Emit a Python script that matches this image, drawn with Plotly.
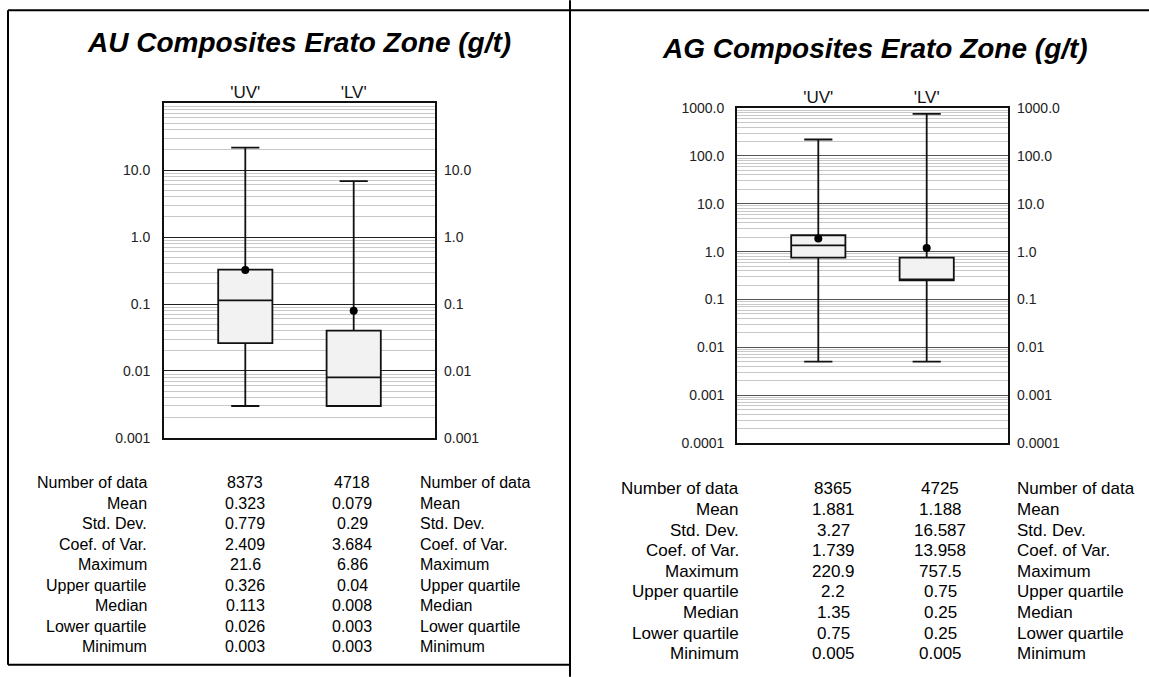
import plotly.graph_objects as go

# ---------------- data ----------------
categories = ["'UV'", "'LV'"]
stat_labels = ["Number of data", "Mean", "Std. Dev.", "Coef. of Var.", "Maximum",
               "Upper quartile", "Median", "Lower quartile", "Minimum"]

au_uv_text = ["8373", "0.323", "0.779", "2.409", "21.6", "0.326", "0.113", "0.026", "0.003"]
au_lv_text = ["4718", "0.079", "0.29", "3.684", "6.86", "0.04", "0.008", "0.003", "0.003"]
ag_uv_text = ["8365", "1.881", "3.27", "1.739", "220.9", "2.2", "1.35", "0.75", "0.005"]
ag_lv_text = ["4725", "1.188", "16.587", "13.958", "757.5", "0.75", "0.25", "0.25", "0.005"]

au_mean = [0.323, 0.079]
au_max = [21.6, 6.86]
au_q3 = [0.326, 0.04]
au_median = [0.113, 0.008]
au_q1 = [0.026, 0.003]
au_min = [0.003, 0.003]

ag_mean = [1.881, 1.188]
ag_max = [220.9, 757.5]
ag_q3 = [2.2, 0.75]
ag_median = [1.35, 0.25]
ag_q1 = [0.75, 0.25]
ag_min = [0.005, 0.005]

au_ticks = [0.001, 0.01, 0.1, 1, 10]
au_ticktext = ["0.001", "0.01", "0.1", "1.0", "10.0"]
ag_ticks = [0.0001, 0.001, 0.01, 0.1, 1, 10, 100, 1000]
ag_ticktext = ["0.0001", "0.001", "0.01", "0.1", "1.0", "10.0", "100.0", "1000.0"]

# ---------------- layout helpers ----------------
W, H = 1149, 677
FONT = "Liberation Sans, Arial, Helvetica, sans-serif"


def px_x(x):
    return x / W


def px_y(y):
    # the captured page is slightly taller than the figure; compensate so that
    # the target pixel row in the final picture is hit
    y_int = y * (H + 16) / H - 8
    return 1 - y_int / H


def minor_vals(lo_exp, hi_exp):
    vals = []
    for e in range(lo_exp, hi_exp):
        for m in range(2, 10):
            vals.append(m * 10 ** e)
    return vals


fig = go.Figure()
xpos = [0, 1]


def add_panel(xa, ya, q1, med, q3, mn, mx, mean):
    fig.add_trace(go.Box(
        x=xpos, q1=q1, median=med, q3=q3, lowerfence=mn, upperfence=mx,
        width=0.5, whiskerwidth=0.52, boxpoints=False,
        fillcolor="#f2f2f2", line=dict(color="#111111", width=1.8),
        xaxis=xa, yaxis=ya, showlegend=False, hoverinfo="skip"))
    fig.add_trace(go.Scatter(
        x=xpos, y=mean, mode="markers",
        marker=dict(color="black", size=8),
        xaxis=xa, yaxis=ya, showlegend=False, hoverinfo="skip"))


add_panel("x", "y", au_q1, au_median, au_q3, au_min, au_max, au_mean)
add_panel("x2", "y3", ag_q1, ag_median, ag_q3, ag_min, ag_max, ag_mean)

# invisible traces to activate right-side axes
fig.add_trace(go.Scatter(x=[0], y=[1], mode="markers", marker=dict(opacity=0),
                         xaxis="x", yaxis="y2", showlegend=False, hoverinfo="skip"))
fig.add_trace(go.Scatter(x=[0], y=[1], mode="markers", marker=dict(opacity=0),
                         xaxis="x2", yaxis="y4", showlegend=False, hoverinfo="skip"))

# domains (pixels -> paper)
L_dom_x = [px_x(164), px_x(435)]
L_dom_y = [px_y(438), px_y(103)]
R_dom_x = [px_x(737), px_x(1008)]
R_dom_y = [px_y(443), px_y(108)]

tickfont = dict(family=FONT, size=14, color="#222222")
catfont = dict(family=FONT, size=17, color="#111111")

xaxis_common = dict(range=[-0.75, 1.75], tickvals=xpos, ticktext=categories,
                    side="top", showgrid=False, zeroline=False, ticks="",
                    showline=True, mirror=True, linecolor="#111111", linewidth=1.8,
                    tickfont=catfont, ticklabelstandoff=-4, fixedrange=True)

fig.update_layout(
    width=W, height=H, autosize=False,
    margin=dict(l=0, r=0, t=0, b=0, pad=0),
    paper_bgcolor="white", plot_bgcolor="white",
    font=dict(family=FONT, color="#111111"),
    xaxis=dict(domain=L_dom_x, anchor="y", **xaxis_common),
    xaxis2=dict(domain=R_dom_x, anchor="y3", **xaxis_common),
    yaxis=dict(domain=L_dom_y, anchor="x", type="log", range=[-3, 2],
               tickvals=au_ticks, ticktext=au_ticktext, tickfont=tickfont,
               showgrid=True, gridcolor="#222222", gridwidth=1,
               minor=dict(tickvals=minor_vals(-3, 2), showgrid=True,
                          gridcolor="#c8c8c8", gridwidth=1, ticks=""),
               showline=True, mirror=True, linecolor="#111111", linewidth=1.8,
               ticks="", zeroline=False, ticklabelstandoff=9),
    yaxis2=dict(domain=L_dom_y, anchor="x", overlaying="y", side="right",
                type="log", range=[-3, 2], tickvals=au_ticks, ticktext=au_ticktext,
                tickfont=tickfont, showgrid=False, ticks="", showline=False,
                zeroline=False, ticklabelstandoff=8),
    yaxis3=dict(domain=R_dom_y, anchor="x2", type="log", range=[-4, 3],
                tickvals=ag_ticks, ticktext=ag_ticktext, tickfont=tickfont,
                showgrid=True, gridcolor="#555555", gridwidth=1,
                minor=dict(tickvals=minor_vals(-4, 3), showgrid=True,
                           gridcolor="#c8c8c8", gridwidth=1, ticks=""),
                showline=True, mirror=True, linecolor="#111111", linewidth=1.8,
                ticks="", zeroline=False, ticklabelstandoff=8),
    yaxis4=dict(domain=R_dom_y, anchor="x2", overlaying="y3", side="right",
                type="log", range=[-4, 3], tickvals=ag_ticks, ticktext=ag_ticktext,
                tickfont=tickfont, showgrid=False, ticks="", showline=False,
                zeroline=False, ticklabelstandoff=8),
)

annotations = []
# titles
annotations.append(dict(text="<b><i>AU Composites Erato Zone (g/t)</i></b>",
                        x=px_x(299), y=px_y(42), xref="paper", yref="paper",
                        xanchor="center", yanchor="middle", showarrow=False,
                        font=dict(family=FONT, size=28, color="black")))
annotations.append(dict(text="<b><i>AG Composites Erato Zone (g/t)</i></b>",
                        x=px_x(875), y=px_y(48), xref="paper", yref="paper",
                        xanchor="center", yanchor="middle", showarrow=False,
                        font=dict(family=FONT, size=28, color="black")))


def add_table(y0, dy, x_lab, x_c1, x_c2, x_lab2, col1, col2, size):
    f = dict(family=FONT, size=size, color="black")
    for i, lab in enumerate(stat_labels):
        y = px_y(y0 + i * dy)
        annotations.append(dict(text=lab, x=px_x(x_lab), y=y, xref="paper", yref="paper",
                                xanchor="right", yanchor="middle", showarrow=False, font=f))
        annotations.append(dict(text=col1[i], x=px_x(x_c1), y=y, xref="paper", yref="paper",
                                xanchor="center", yanchor="middle", showarrow=False, font=f))
        annotations.append(dict(text=col2[i], x=px_x(x_c2), y=y, xref="paper", yref="paper",
                                xanchor="center", yanchor="middle", showarrow=False, font=f))
        annotations.append(dict(text=lab, x=px_x(x_lab2), y=y, xref="paper", yref="paper",
                                xanchor="left", yanchor="middle", showarrow=False, font=f))


add_table(483, 20.5, 149, 245, 352, 418, au_uv_text, au_lv_text, 16)
add_table(489, 20.6, 741, 833, 940, 1015, ag_uv_text, ag_lv_text, 17)

fig.update_layout(annotations=annotations)

# panel frames
frame = dict(color="black", width=2)
shapes = [
    dict(type="line", xref="paper", yref="paper", x0=px_x(8), x1=px_x(8), y0=px_y(10), y1=px_y(665), line=frame),
    dict(type="line", xref="paper", yref="paper", x0=px_x(8), x1=px_x(1149), y0=px_y(10), y1=px_y(10), line=frame),
    dict(type="line", xref="paper", yref="paper", x0=px_x(8), x1=px_x(570), y0=px_y(665), y1=px_y(665), line=frame),
    dict(type="line", xref="paper", yref="paper", x0=px_x(570), x1=px_x(570), y0=px_y(0), y1=px_y(677), line=frame),
]
fig.update_layout(shapes=shapes)

css_js = (
    "var s=document.createElement('style');"
    "s.innerHTML='html,body{margin:0!important;padding:0!important;overflow:hidden!important;}';"
    "document.head.appendChild(s);"
)

fig.write_html("out.html", config={"displayModeBar": False}, post_script=css_js)
